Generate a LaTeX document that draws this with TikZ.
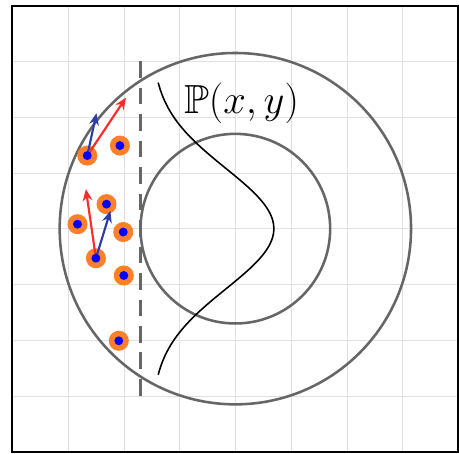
\documentclass[tikz,border=0pt]{standalone}
\usepackage{amsmath, amssymb}
\usepackage{xcolor}
\usetikzlibrary{arrows.meta}

\definecolor{ringorange}{HTML}{FF7F2A}
\definecolor{arrred}{HTML}{FF2A2A}
\definecolor{arrblue}{HTML}{2C3DA6}
\definecolor{circgray}{HTML}{666666}

\begin{document}
\begin{tikzpicture}[>={Stealth[length=6pt,width=5pt]},
    gridline/.style={very thin, black!12},
    ringline/.style={line width=1.3pt, circgray},
    velarrow/.style={->, line width=1.1pt}]

    % =================================================================
    % 1. KHUNG VA LUOI
    % =================================================================
    \useasboundingbox (-4.22,-4.03) rectangle (4.01,4.10);
    \draw[gridline] (-4,-4) grid (4,4);
    \draw[line width=1.1pt] (-4,-4) rectangle (4,4);

    % =================================================================
    % 2. CAC DIEM CHINH
    % =================================================================
    \coordinate (O) at (0,0);
    \coordinate (DashTop) at (-1.7,3);
    \coordinate (DashBot) at (-1.7,-3);

    % Cac mau
    \coordinate (P1) at (-2.655,1.31);
    \coordinate (P2) at (-2.07,1.49);
    \coordinate (P3) at (-2.31,0.44);
    \coordinate (P4) at (-2.83,0.08);
    \coordinate (P5) at (-2.01,-0.06);
    \coordinate (P6) at (-2.50,-0.53);
    \coordinate (P7) at (-2.00,-0.84);
    \coordinate (P8) at (-2.09,-2.01);

    % Dau mui ten
    \coordinate (B1) at (-2.49,2.07);
    \coordinate (R1) at (-1.96,2.35);
    \coordinate (R6) at (-2.68,0.71);
    \coordinate (B6) at (-2.24,0.32);

    % =================================================================
    % 3. HAI DUONG TRON VA DUONG NET DUT
    % =================================================================
    \draw[ringline] (O) circle (3.15);
    \draw[ringline] (O) circle (1.7);
    \draw[ringline, dash pattern=on 8.5pt off 5pt] (DashTop) -- (DashBot);

    % =================================================================
    % 4. DUONG PHAN PHOI
    % =================================================================
    \draw[line width=0.8pt] plot[domain=-2.62:2.62, samples=90, smooth]
        ({-1.5+2.19*exp(-\x*\x/2.34)}, \x);
    \node[font=\huge] (lbl) at (0.11,2.25) {$\mathbb{P}(x,y)$};

    % =================================================================
    % 5. CAC MAU VA VECTO
    % =================================================================
    \foreach \p in {P1,P2,P3,P4,P5,P6,P7,P8}
        \fill[ringorange] (\p) circle (0.18);

    \draw[velarrow, arrblue] (P1) -- (B1);
    \draw[velarrow, arrred] (P1) -- (R1);
    \draw[velarrow, arrred] (P6) -- (R6);
    \draw[velarrow, arrblue] (P6) -- (B6);

    \foreach \p in {P1,P2,P3,P4,P5,P6,P7,P8}
        \fill[blue] (\p) circle (0.08);

\end{tikzpicture}
\end{document}
